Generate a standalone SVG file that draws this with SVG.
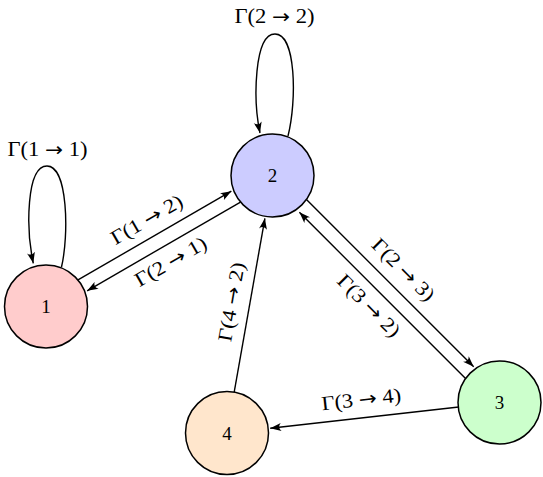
<svg xmlns="http://www.w3.org/2000/svg" width="543" height="477" viewBox="0 0 543 477">
<style>
.node circle{stroke:#000;stroke-width:1.5}
.node text{font-family:"Liberation Serif","DejaVu Serif",serif;font-size:19px;text-anchor:middle;fill:#000}
.edge{fill:none;stroke:#000;stroke-width:1.4;marker-end:url(#arr)}
.lbl{font-family:"Liberation Serif","DejaVu Serif",serif;font-size:20px;text-anchor:middle;fill:#000}
.ar{font-family:"DejaVu Sans",sans-serif;font-size:19px}
</style>
<defs>
<marker id="arr" markerUnits="userSpaceOnUse" markerWidth="12" markerHeight="9" refX="11" refY="4.5" orient="auto" viewBox="0 0 12 9">
<path d="M0,0.5 Q4,4.5 0,8.5 L11,4.5 Z" fill="#000"/>
</marker>
</defs>
<g id="connectors">
<path class="edge" d="M61.5,267 C69,235 68,166 47,166 C26,166 26,230 33.3,263.3"/>
<path class="edge" d="M288,136 C297,100 296,34 275,34 C254,34 253,100 260,133"/>
<path class="edge" d="M78,279.9 L231.35,191.2"/>
<path class="edge" d="M240.5,202.1 L87.15,290.8"/>
<path class="edge" d="M306.45,199.55 L473.7,366.8"/>
<path class="edge" d="M465.55,378.45 L299.4,212.3"/>
<path class="edge" d="M234.1,392.6 L264.9,218.3"/>
<path class="edge" d="M458.75,407.06 L270.2,428.2"/>
<text class="lbl" x="47.5" y="156" textLength="80" lengthAdjust="spacingAndGlyphs">Γ(1 <tspan class="ar">→</tspan> 1)</text>
<text class="lbl" x="274.5" y="22.5" textLength="80" lengthAdjust="spacingAndGlyphs">Γ(2 <tspan class="ar">→</tspan> 2)</text>
<text class="lbl" transform="translate(147,220) rotate(-30.06)" y="6" textLength="80" lengthAdjust="spacingAndGlyphs">Γ(1 <tspan class="ar">→</tspan> 2)</text>
<text class="lbl" transform="translate(171,262) rotate(-30.06)" y="6" textLength="80" lengthAdjust="spacingAndGlyphs">Γ(2 <tspan class="ar">→</tspan> 1)</text>
<text class="lbl" transform="translate(403,270) rotate(45)" y="6" textLength="80" lengthAdjust="spacingAndGlyphs">Γ(2 <tspan class="ar">→</tspan> 3)</text>
<text class="lbl" transform="translate(368.5,306) rotate(45)" y="6" textLength="80" lengthAdjust="spacingAndGlyphs">Γ(3 <tspan class="ar">→</tspan> 2)</text>
<text class="lbl" transform="translate(232,302) rotate(-79.98)" y="6" textLength="80" lengthAdjust="spacingAndGlyphs">Γ(4 <tspan class="ar">→</tspan> 2)</text>
<text class="lbl" transform="translate(361.25,399.9) rotate(-6.39)" y="6" textLength="80" lengthAdjust="spacingAndGlyphs">Γ(3 <tspan class="ar">→</tspan> 4)</text>
</g>
<g id="node1" class="node"><circle cx="46" cy="306.5" r="41.5" fill="#ffcccc"/><text x="46" y="313">1</text></g>
<g id="node2" class="node"><circle cx="272.5" cy="175.5" r="41.5" fill="#ccccff"/><text x="272.5" y="182">2</text></g>
<g id="node3" class="node"><circle cx="499.5" cy="402.5" r="41.5" fill="#ccffcc"/><text x="499.5" y="409">3</text></g>
<g id="node4" class="node"><circle cx="227" cy="433" r="41.5" fill="#ffe6cc"/><text x="227" y="439.5">4</text></g>
</svg>
